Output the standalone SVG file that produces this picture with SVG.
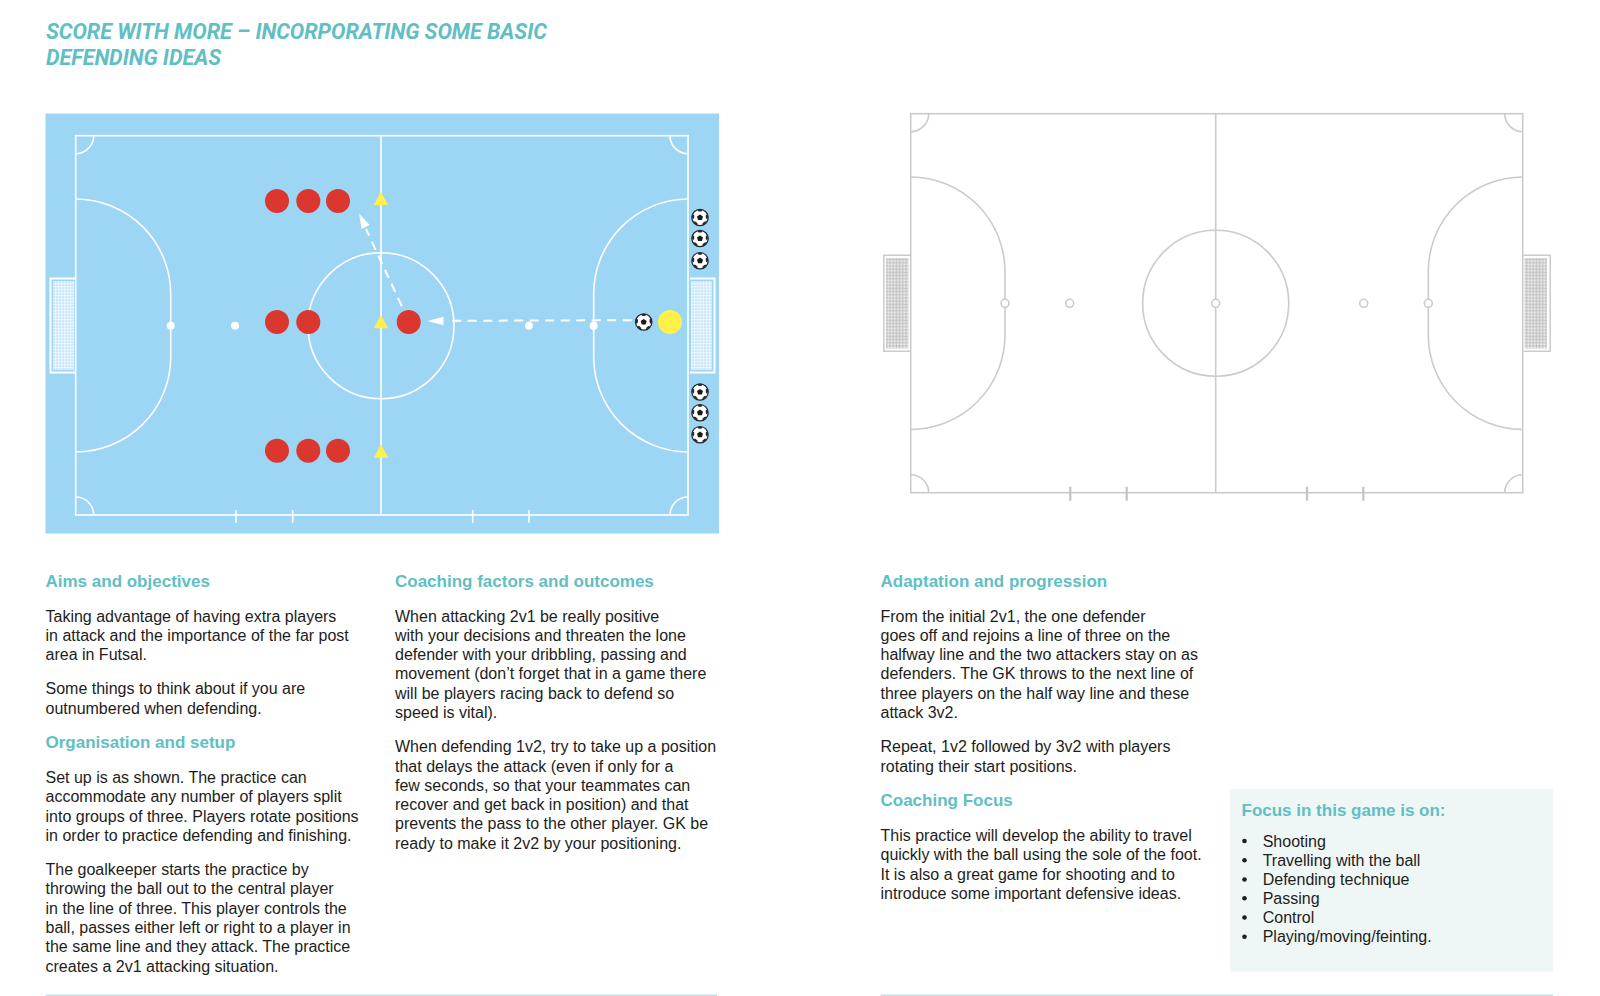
<svg xmlns="http://www.w3.org/2000/svg" width="1600" height="996" viewBox="0 0 1600 996">
<style>
text{font-family:"Liberation Sans",Arial,sans-serif}
.t{font-size:16px;fill:#1d1d1b}
.h{font-size:17px;font-weight:700;fill:#5fbfc4}
.title{font-family:Roboto,"Liberation Sans",sans-serif;font-size:21.6px;font-weight:700;font-style:italic;fill:#5fbfc4;letter-spacing:-.07px}
.w{fill:none;stroke:#fff;stroke-width:1.6}
.g{fill:none;stroke:#cbcbcb;stroke-width:1.6}
.tick{fill:none;stroke:#c4c4c4;stroke-width:2.2}
.red{fill:#dc372e}
.yel{fill:#fff04a}
.dash{fill:none;stroke:#fff;stroke-width:2;stroke-dasharray:9 6.5}
</style>
<defs>
<pattern id="netW" width="3" height="3" patternUnits="userSpaceOnUse"><rect width="3" height="3" fill="#b9e0f8"/><rect x=".5" y=".5" width="2.1" height="2.1" fill="#fff"/></pattern>
<pattern id="netG" width="3.2" height="3.2" patternUnits="userSpaceOnUse"><rect width="3.2" height="3.2" fill="#c6c6c6"/><rect x="1.1" y="1.1" width="1.7" height="1.7" fill="#f6f6f6"/></pattern>
<g id="ball">
<circle r="8.2" fill="#fff" stroke="#222" stroke-width="1.2"/>
<polygon points="0,-3.1 3,-0.9 1.9,2.5 -1.9,2.5 -3,-0.9" fill="#1a1a1a"/>
<path d="M-2.6-7.6 0-8.2 2.6-7.6 1.4-6-1.4-6ZM7.4-3.6 8.2-.6 7 2 5.8.2 5.8-2.5ZM-7.4-3.6-8.2-.6-7 2-5.8.2-5.8-2.5ZM2.6 7.6 5.4 6.2 6.2 3.8 4.2 4.2 2.4 6ZM-2.6 7.6-5.4 6.2-6.2 3.8-4.2 4.2-2.4 6Z" fill="#2a2a2a"/>
</g>
</defs>
<rect width="1600" height="996" fill="#fff"/>
<g id="heading">
<text class="title" x="46" y="39">SCORE WITH MORE – INCORPORATING SOME BASIC</text>
<text class="title" x="46" y="64.5">DEFENDING IDEAS</text>
</g>
<g id="pitch-left">
<rect x="45.5" y="113.5" width="673.5" height="420" fill="#9dd5f5"/>
<rect class="w" x="75.7" y="135.7" width="612.3" height="379.3"/>
<path class="w" d="M381 135.7V515M75.7 153.7A18 18 0 0 0 93.7 135.7M688 153.7A18 18 0 0 1 670 135.7M75.7 497A18 18 0 0 1 93.7 515M688 497A18 18 0 0 0 670 515"/>
<circle class="w" cx="381" cy="325.7" r="73"/>
<path class="w" d="M75.7 199A95 95 0 0 1 170.7 294V357A95 95 0 0 1 75.7 452M688 199A95 95 0 0 0 593.7 294V357A95 95 0 0 0 688 452"/>
<path class="w" d="M236 510V522.7M292.7 510V522.7M472.7 510V522.7M529 510V522.7"/>
<g fill="#fff"><circle cx="170.7" cy="325.7" r="4"/><circle cx="235" cy="325.7" r="4"/><circle cx="381" cy="325.7" r="3"/><circle cx="529" cy="325.7" r="4"/><circle cx="593.7" cy="325.7" r="4"/></g>
<path fill="none" stroke="#fff" stroke-width="2" d="M75 278.5H50.5V372.5H75M690 278.5H714.5V372.5H690"/>
<rect x="53" y="281" width="21" height="89" fill="url(#netW)"/>
<rect x="691" y="281" width="21" height="89" fill="url(#netW)"/>
</g>
<g id="connectors">
<path class="dash" d="M631.7 320.2L452 320.8"/>
<polygon fill="#fff" points="427.3,321 443.5,316.8 443.5,325.2"/>
<path class="dash" d="M401.7 306L366 229"/>
<polygon fill="#fff" points="359,213.5 361.7,228.9 369.7,225"/>
</g>
<g id="cone-top"><polygon class="yel" points="381,191.7 388.2,205 373.8,205"/></g>
<g id="cone-mid"><polygon class="yel" points="381,315 388.2,328.3 373.8,328.3"/></g>
<g id="cone-bottom"><polygon class="yel" points="381,444.3 388.2,457.7 373.8,457.7"/></g>
<g id="players-top"><circle class="red" cx="277" cy="201" r="12"/><circle class="red" cx="308.3" cy="201" r="12"/><circle class="red" cx="338" cy="201" r="12"/></g>
<g id="players-mid"><circle class="red" cx="277" cy="322" r="12"/><circle class="red" cx="308.3" cy="322" r="12"/></g>
<g id="defender"><circle class="red" cx="408.7" cy="322" r="12"/></g>
<g id="players-bottom"><circle class="red" cx="277" cy="450.7" r="12"/><circle class="red" cx="308.3" cy="450.7" r="12"/><circle class="red" cx="338" cy="450.7" r="12"/></g>
<g id="goalkeeper"><circle class="yel" cx="670" cy="322" r="12"/></g>
<g id="balls">
<use href="#ball" x="643.7" y="322"/>
<use href="#ball" x="700" y="217.5"/>
<use href="#ball" x="700" y="238.5"/>
<use href="#ball" x="700" y="260.7"/>
<use href="#ball" x="700" y="392"/>
<use href="#ball" x="700" y="412.7"/>
<use href="#ball" x="700" y="434.7"/>
</g>
<g id="pitch-right">
<rect class="g" x="910.7" y="113.7" width="612" height="379"/>
<path class="g" d="M1215.7 113.7V492.7M910.7 131.7A18 18 0 0 0 928.7 113.7M1522.7 131.7A18 18 0 0 1 1504.7 113.7M910.7 474.7A18 18 0 0 1 928.7 492.7M1522.7 474.7A18 18 0 0 0 1504.7 492.7"/>
<circle class="g" cx="1215.7" cy="303.3" r="73"/>
<path class="g" d="M910.7 177A94.5 94.5 0 0 1 1005 271.5V335A94.5 94.5 0 0 1 910.7 429.5M1522.7 177A94.5 94.5 0 0 0 1428.3 271.5V335A94.5 94.5 0 0 0 1522.7 429.5"/>
<path class="tick" d="M1070.3 486.7V500.7M1126.7 486.7V500.7M1307 486.7V500.7M1363.3 486.7V500.7"/>
<g fill="#fff" stroke="#cbcbcb" stroke-width="1.6"><circle cx="1005" cy="303.3" r="4"/><circle cx="1069.7" cy="303.3" r="4"/><circle cx="1215.7" cy="303.3" r="4"/><circle cx="1363.7" cy="303.3" r="4"/><circle cx="1428.3" cy="303.3" r="4"/></g>
<path fill="none" stroke="#cbcbcb" stroke-width="1.5" d="M910 255.3H883.8V351.3H910M1523.5 255.3H1550.2V351.3H1523.5"/>
<rect x="886" y="258" width="22.5" height="90.5" fill="url(#netG)"/>
<rect x="1524.5" y="258" width="22.5" height="90.5" fill="url(#netG)"/>
</g>
<g id="col-1">
<text class="h" x="45.5" y="586.7">Aims and objectives</text>
<text class="t" x="45.5" y="621.7">Taking advantage of having extra players</text>
<text class="t" x="45.5" y="641">in attack and the importance of the far post</text>
<text class="t" x="45.5" y="660.2">area in Futsal.</text>
<text class="t" x="45.5" y="694.3">Some things to think about if you are</text>
<text class="t" x="45.5" y="713.5">outnumbered when defending.</text>
<text class="h" x="45.5" y="748">Organisation and setup</text>
<text class="t" x="45.5" y="783.3">Set up is as shown. The practice can</text>
<text class="t" x="45.5" y="802.4">accommodate any number of players split</text>
<text class="t" x="45.5" y="821.6">into groups of three. Players rotate positions</text>
<text class="t" x="45.5" y="840.8">in order to practice defending and finishing.</text>
<text class="t" x="45.5" y="875">The goalkeeper starts the practice by</text>
<text class="t" x="45.5" y="894.4">throwing the ball out to the central player</text>
<text class="t" x="45.5" y="913.7">in the line of three. This player controls the</text>
<text class="t" x="45.5" y="933">ball, passes either left or right to a player in</text>
<text class="t" x="45.5" y="952.2">the same line and they attack. The practice</text>
<text class="t" x="45.5" y="971.5">creates a 2v1 attacking situation.</text>
</g>
<g id="col-2">
<text class="h" x="395" y="586.7">Coaching factors and outcomes</text>
<text class="t" x="395" y="621.7">When attacking 2v1 be really positive</text>
<text class="t" x="395" y="641">with your decisions and threaten the lone</text>
<text class="t" x="395" y="660.2">defender with your dribbling, passing and</text>
<text class="t" x="395" y="679.4">movement (don’t forget that in a game there</text>
<text class="t" x="395" y="698.7">will be players racing back to defend so</text>
<text class="t" x="395" y="718">speed is vital).</text>
<text class="t" x="395" y="752.3">When defending 1v2, try to take up a position</text>
<text class="t" x="395" y="771.6">that delays the attack (even if only for a</text>
<text class="t" x="395" y="790.8">few seconds, so that your teammates can</text>
<text class="t" x="395" y="810">recover and get back in position) and that</text>
<text class="t" x="395" y="829.3">prevents the pass to the other player. GK be</text>
<text class="t" x="395" y="848.6">ready to make it 2v2 by your positioning.</text>
</g>
<g id="col-3">
<text class="h" x="880.5" y="586.7">Adaptation and progression</text>
<text class="t" x="880.5" y="621.7">From the initial 2v1, the one defender</text>
<text class="t" x="880.5" y="641">goes off and rejoins a line of three on the</text>
<text class="t" x="880.5" y="660.2">halfway line and the two attackers stay on as</text>
<text class="t" x="880.5" y="679.4">defenders. The GK throws to the next line of</text>
<text class="t" x="880.5" y="698.7">three players on the half way line and these</text>
<text class="t" x="880.5" y="718">attack 3v2.</text>
<text class="t" x="880.5" y="752.3">Repeat, 1v2 followed by 3v2 with players</text>
<text class="t" x="880.5" y="771.6">rotating their start positions.</text>
<text class="h" x="880.5" y="805.7">Coaching Focus</text>
<text class="t" x="880.5" y="841">This practice will develop the ability to travel</text>
<text class="t" x="880.5" y="860.3">quickly with the ball using the sole of the foot.</text>
<text class="t" x="880.5" y="879.6">It is also a great game for shooting and to</text>
<text class="t" x="880.5" y="898.8">introduce some important defensive ideas.</text>
</g>
<g id="focus-box">
<rect x="1230" y="789.3" width="323" height="182.4" fill="#eff7f6"/>
<text class="h" x="1241.5" y="816">Focus in this game is on:</text>
<g fill="#1d1d1b"><circle cx="1244.5" cy="841" r="2.3"/><circle cx="1244.5" cy="860.2" r="2.3"/><circle cx="1244.5" cy="879.5" r="2.3"/><circle cx="1244.5" cy="898.3" r="2.3"/><circle cx="1244.5" cy="917.5" r="2.3"/><circle cx="1244.5" cy="936.7" r="2.3"/></g>
<text class="t" x="1262.7" y="846.5">Shooting</text>
<text class="t" x="1262.7" y="865.7">Travelling with the ball</text>
<text class="t" x="1262.7" y="885">Defending technique</text>
<text class="t" x="1262.7" y="903.8">Passing</text>
<text class="t" x="1262.7" y="923">Control</text>
<text class="t" x="1262.7" y="942.2">Playing/moving/feinting.</text>
</g>
<g id="rules" stroke="#bfe3e2" stroke-width="1.5"><path d="M45.5 995.3H717M880.5 995.3H1553"/></g>
</svg>
